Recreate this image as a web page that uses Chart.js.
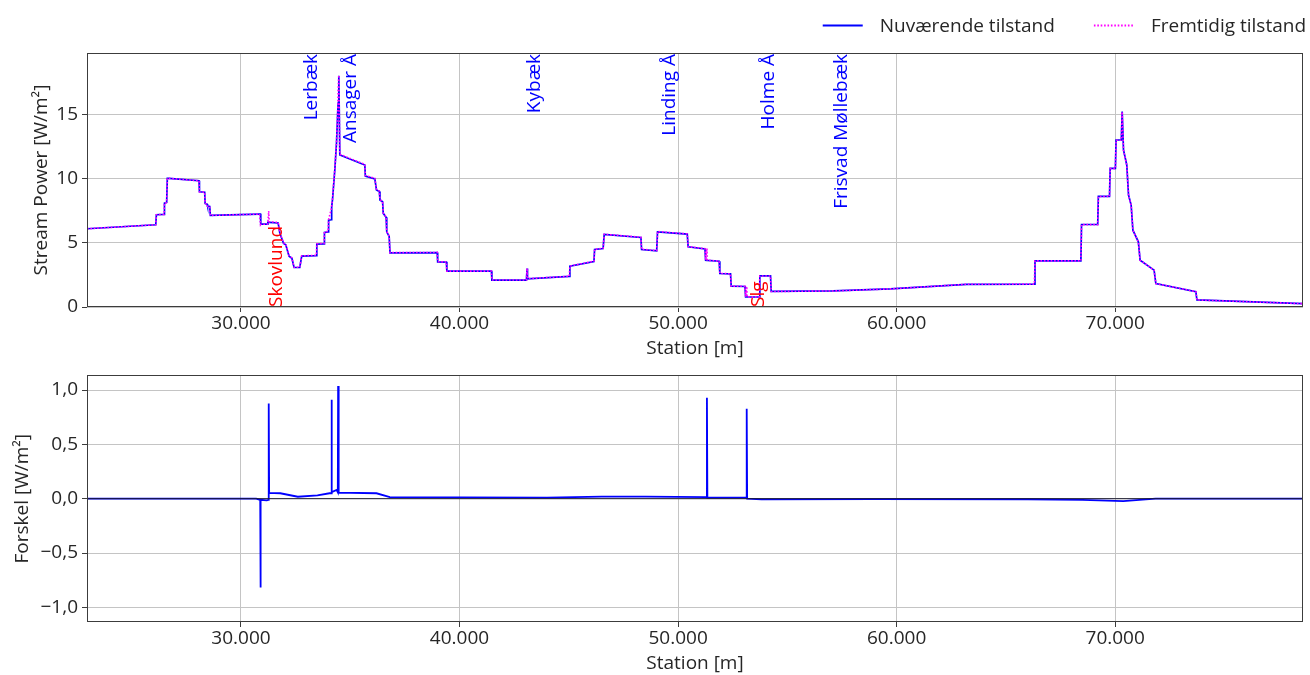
<!DOCTYPE html>
<html>
<head>
<meta charset="utf-8">
<title>Stream Power</title>
<script src="https://cdn.jsdelivr.net/npm/chart.js@4.4.1/dist/chart.umd.min.js"></script>
<style>
  html, body { margin: 0; padding: 0; background: #fff; }
  #wrap { position: relative; width: 1310px; height: 675px; overflow: hidden; }
  #topChart { position: absolute; left: 0; top: 0; }
  #bottomChart { position: absolute; left: 0; top: 360px; }
</style>
</head>
<body>
<div id="wrap">
  <canvas id="topChart" width="1310" height="360"></canvas>
  <canvas id="bottomChart" width="1310" height="315"></canvas>
</div>
<script>
// Station range [m]
const stationMin = 22955;
const stationMax = 78593;

// Stream power along the river [W/m2]
const station = [
  22955, 26100, 26130, 26480, 26500, 26600, 26630, 26700, 28080, 28100,
  28340, 28360, 28450, 28470, 28570, 28600, 30850, 30893, 30905, 31200,
  31230, 31270, 31290, 31700, 31780, 31950, 32050, 32200, 32330, 32430,
  32690, 32780, 33450, 33470, 33800, 33820, 33990, 34010, 34143, 34150,
  34187, 34294, 34371, 34431, 34445, 34477, 34523, 35667, 35690, 36125,
  36200, 36330, 36360, 36480, 36510, 36640, 36670, 36780, 36820, 38980,
  39000, 39400, 39420, 41460, 41480, 43060, 43090, 43110, 45020, 45050,
  46150, 46180, 46570, 46620, 48300, 48330, 49020, 49060, 50420, 50460,
  51230, 51260, 51320, 51340, 51880, 51910, 52400, 52430, 53060, 53090,
  53140, 53160, 53710, 53740, 54230, 54260, 57100, 59700, 63200, 66300,
  66330, 68430, 68460, 69200, 69230, 69740, 69770, 70010, 70040, 70280,
  70320, 70380, 70530, 70610, 70730, 70810, 71060, 71140, 71780, 71860,
  73690, 73740, 78593
];
const nuvaerende = [
  6.10, 6.41, 7.19, 7.22, 8.10, 8.15, 10.03, 10.03, 9.84, 8.98,
  8.95, 8.07, 8.02, 7.86, 7.84, 7.14, 7.24, 7.24, 6.46, 6.46,
  6.59, 6.59, 6.59, 6.55, 5.75, 4.95, 4.85, 3.96, 3.80, 3.08,
  3.08, 3.96, 4.00, 4.90, 4.92, 5.81, 5.85, 6.77, 6.80, 7.81,
  8.34, 10.70, 12.76, 15.40, 15.90, 18.02, 11.85, 11.07, 10.21, 9.98,
  9.12, 9.00, 8.34, 8.20, 7.30, 7.00, 5.86, 5.50, 4.22, 4.24,
  3.52, 3.50, 2.79, 2.79, 2.09, 2.09, 3.00, 2.20, 2.38, 3.18,
  3.55, 4.48, 4.56, 5.65, 5.42, 4.48, 4.38, 5.86, 5.68, 4.69,
  4.53, 3.65, 3.64, 3.63, 3.57, 2.61, 2.58, 1.62, 1.60, 0.78,
  0.78, 0.78, 0.78, 2.42, 2.42, 1.22, 1.25, 1.41, 1.77, 1.79,
  3.60, 3.60, 6.43, 6.43, 8.62, 8.62, 10.81, 10.81, 13.02, 13.02,
  15.23, 12.24, 11.07, 8.73, 7.95, 5.99, 5.08, 3.65, 2.87, 1.83,
  1.20, 0.55, 0.26
];
const fremtidig = [
  6.10, 6.41, 7.19, 7.22, 8.10, 8.15, 10.03, 10.03, 9.84, 8.98,
  8.95, 8.07, 8.02, 7.86, 7.84, 7.14, 7.24, 6.42, 6.45, 6.45,
  6.59, 7.47, 6.64, 6.60, 5.80, 5.00, 4.90, 4.00, 3.83, 3.10,
  3.10, 3.99, 4.03, 4.93, 4.96, 5.85, 5.90, 6.82, 7.71, 7.87,
  8.41, 10.78, 12.84, 15.48, 16.94, 18.07, 11.90, 11.12, 10.26, 10.03,
  9.17, 9.04, 8.37, 8.23, 7.33, 7.02, 5.88, 5.52, 4.235, 4.255,
  3.535, 3.51, 2.80, 2.80, 2.10, 2.10, 3.01, 2.21, 2.39, 3.19,
  3.57, 4.50, 4.58, 5.67, 5.44, 4.50, 4.40, 5.88, 5.70, 4.71,
  4.545, 3.665, 4.57, 3.645, 3.58, 2.62, 2.59, 1.63, 1.61, 0.79,
  1.61, 0.79, 0.79, 2.42, 2.42, 1.21, 1.25, 1.41, 1.77, 1.785,
  3.595, 3.595, 6.42, 6.42, 8.61, 8.61, 10.79, 10.79, 13.00, 13.00,
  15.21, 12.22, 11.05, 8.72, 7.94, 5.98, 5.07, 3.645, 2.87, 1.83,
  1.20, 0.55, 0.26
];

// Difference between the two states [W/m2]
const stationForskel = [
  22955, 30700, 30860, 30880, 30893, 30905, 31180, 31250, 31270, 31290,
  31800, 32600, 33500, 34050, 34130, 34143, 34160, 34380, 34430, 34445,
  34470, 36200, 36810, 40000, 44000, 46500, 48500, 51300, 51320, 51340,
  53120, 53140, 53160, 53820, 59000, 66000, 68500, 70370, 71850, 78593
];
const forskel = [
  0, 0, -0.01, -0.01, -0.817, -0.01, -0.015, -0.01, 0.876, 0.053,
  0.05, 0.018, 0.03, 0.05, 0.05, 0.912, 0.06, 0.08, 0.06, 1.037,
  0.055, 0.05, 0.015, 0.012, 0.01, 0.02, 0.02, 0.015, 0.93, 0.01,
  0.01, 0.829, 0.0, -0.007, -0.003, -0.005, -0.01, -0.022, 0, 0
];

// Axis ticks
const stationTicks = [30000, 40000, 50000, 60000, 70000];
const stationTickLabels = ['30.000', '40.000', '50.000', '60.000', '70.000'];
const powerTicks = [0, 5, 10, 15];
const powerTickLabels = ['0', '5', '10', '15'];
const forskelTicks = [-1, -0.5, 0, 0.5, 1];
const forskelTickLabels = ['\u22121,0', '\u22120,5', '0,0', '0,5', '1,0'];

// Tributaries (blue) and structures (red) along the river
const tributaryNames = ['Lerbæk', 'Ansager Å', 'Kybæk', 'Linding Å', 'Holme Å', 'Frisvad Møllebæk'];
const tributaryStations = [33227, 35013, 43418, 49629, 54129, 57489];
const structureNames = ['Skovlund', 'Slg'];
const structureStations = [31625, 53672];

const FONT = "'Open Sans', 'Noto Sans', sans-serif";
const TEXT = '#262626';
Chart.defaults.font.family = FONT;
Chart.defaults.font.size = 19;
Chart.defaults.color = TEXT;

const toPoints = (xs, ys) => xs.map((x, i) => ({ x: x, y: ys[i] }));

// Full rectangle round the plot area
const framePlugin = {
  id: 'frame',
  afterDraw(chart) {
    const { ctx, chartArea: a } = chart;
    ctx.save();
    ctx.strokeStyle = '#3c3c3c';
    ctx.lineWidth = 1;
    const l = Math.round(a.left) + 0.5, t = Math.round(a.top) + 0.5;
    const r = Math.round(a.right) - 0.5, b = Math.round(a.bottom) - 0.5;
    ctx.strokeRect(l, t, r - l, b - t);
    ctx.restore();
  }
};

// Vertical place names at their stations
const placeLabelsPlugin = {
  id: 'placeLabels',
  afterDatasetsDraw(chart) {
    const { ctx, chartArea: a } = chart;
    const xs = chart.scales.x;
    ctx.save();
    ctx.font = '19px ' + FONT;
    ctx.textBaseline = 'middle';
    tributaryNames.forEach((name, i) => {
      const px = xs.getPixelForValue(tributaryStations[i]);
      ctx.save();
      ctx.translate(px, a.top);
      ctx.rotate(-Math.PI / 2);
      ctx.textAlign = 'right';
      ctx.fillStyle = '#0000ff';
      ctx.fillText(name, -1, 0);
      ctx.restore();
    });
    structureNames.forEach((name, i) => {
      const px = xs.getPixelForValue(structureStations[i]);
      ctx.save();
      ctx.translate(px, a.bottom);
      ctx.rotate(-Math.PI / 2);
      ctx.textAlign = 'left';
      ctx.fillStyle = '#ff0000';
      ctx.fillText(name, 0, 0);
      ctx.restore();
    });
    ctx.restore();
  }
};

// Figure legend in the upper right corner
const figureLegendPlugin = {
  id: 'figureLegend',
  afterDraw(chart) {
    const ctx = chart.ctx;
    const items = chart.data.datasets.slice().sort((p, q) => p.legendIndex - q.legendIndex);
    ctx.save();
    ctx.font = '19px ' + FONT;
    ctx.textBaseline = 'alphabetic';
    ctx.textAlign = 'left';
    const y = 25;
    let right = 1306;
    for (let i = items.length - 1; i >= 0; i--) {
      const d = items[i];
      const w = ctx.measureText(d.label).width;
      const textX = right - w;
      const lineEnd = textX - 17;
      const lineStart = lineEnd - 40;
      ctx.strokeStyle = d.borderColor;
      ctx.lineWidth = 2;
      ctx.setLineDash(d.borderDash || []);
      ctx.beginPath();
      ctx.moveTo(lineStart, y + 0.5);
      ctx.lineTo(lineEnd, y + 0.5);
      ctx.stroke();
      ctx.setLineDash([]);
      ctx.fillStyle = TEXT;
      ctx.fillText(d.label, textX, y + 6.5);
      right = lineStart - 39;
    }
    ctx.restore();
  }
};

function stationAxis() {
  return {
    type: 'linear',
    min: stationMin,
    max: stationMax,
    afterBuildTicks: s => { s.ticks = stationTicks.map(v => ({ value: v })); },
    afterFit: s => { s.height = 53; },
    ticks: {
      autoSkip: false,
      maxRotation: 0,
      padding: 0,
      color: TEXT,
      callback: (v, i) => stationTickLabels[i]
    },
    grid: { color: '#c4c4c4', lineWidth: 1, tickColor: '#3c3c3c', tickLength: 5, drawTicks: true },
    border: { display: false },
    title: { display: true, text: 'Station [m]', color: TEXT, padding: 0, font: { size: 19 } }
  };
}

const topChart = new Chart(document.getElementById('topChart'), {
  type: 'line',
  data: {
    datasets: [
      {
        label: 'Nuværende tilstand',
        legendIndex: 0,
        data: toPoints(station, nuvaerende),
        borderColor: '#0000ff',
        borderWidth: 1.7,
        pointRadius: 0,
        tension: 0,
        order: 2
      },
      {
        label: 'Fremtidig tilstand',
        legendIndex: 1,
        data: toPoints(station, fremtidig),
        borderColor: '#ff00ff',
        borderWidth: 1.6,
        borderDash: [1.6, 1.8],
        pointRadius: 0,
        tension: 0,
        order: 1
      }
    ]
  },
  options: {
    responsive: false,
    animation: false,
    events: [],
    layout: { padding: { left: 30, right: 7, top: 53, bottom: 0 } },
    plugins: { legend: { display: false }, tooltip: { enabled: false } },
    scales: {
      x: stationAxis(),
      y: {
        type: 'linear',
        min: 0,
        max: 19.8,
        afterBuildTicks: s => { s.ticks = powerTicks.map(v => ({ value: v })); },
        afterFit: s => { s.width = 87 - 30; },
        ticks: { padding: 4, color: TEXT, callback: (v, i) => powerTickLabels[i] },
        grid: { color: '#c4c4c4', lineWidth: 1, tickColor: '#3c3c3c', tickLength: 5, drawTicks: true },
        border: { display: false },
        title: { display: true, text: 'Stream Power [W/m²]', color: TEXT, padding: 0, font: { size: 19 } }
      }
    }
  },
  plugins: [placeLabelsPlugin, framePlugin, figureLegendPlugin]
});

const bottomChart = new Chart(document.getElementById('bottomChart'), {
  type: 'line',
  data: {
    datasets: [
      {
        label: 'Forskel',
        data: toPoints(stationForskel, forskel),
        borderColor: '#0000ff',
        borderWidth: 1.8,
        pointRadius: 0,
        tension: 0,
        order: 2
      },
      {
        label: 'Nul',
        data: toPoints([stationMin, stationMax], [0, 0]),
        borderColor: '#1a1a2e',
        borderWidth: 1,
        pointRadius: 0,
        tension: 0,
        order: 1
      }
    ]
  },
  options: {
    responsive: false,
    animation: false,
    events: [],
    layout: { padding: { left: 11, right: 7, top: 7, bottom: 0 } },
    plugins: { legend: { display: false }, tooltip: { enabled: false } },
    scales: {
      x: stationAxis(),
      y: {
        type: 'linear',
        min: -1.135,
        max: 1.135,
        afterBuildTicks: s => { s.ticks = forskelTicks.map(v => ({ value: v })); },
        afterFit: s => { s.width = 87 - 11; },
        ticks: { padding: 4, color: TEXT, callback: (v, i) => forskelTickLabels[i] },
        grid: { color: '#c4c4c4', lineWidth: 1, tickColor: '#3c3c3c', tickLength: 5, drawTicks: true },
        border: { display: false },
        title: { display: true, text: 'Forskel [W/m²]', color: TEXT, padding: 0, font: { size: 19 } }
      }
    }
  },
  plugins: [framePlugin]
});
</script>
</body>
</html>
